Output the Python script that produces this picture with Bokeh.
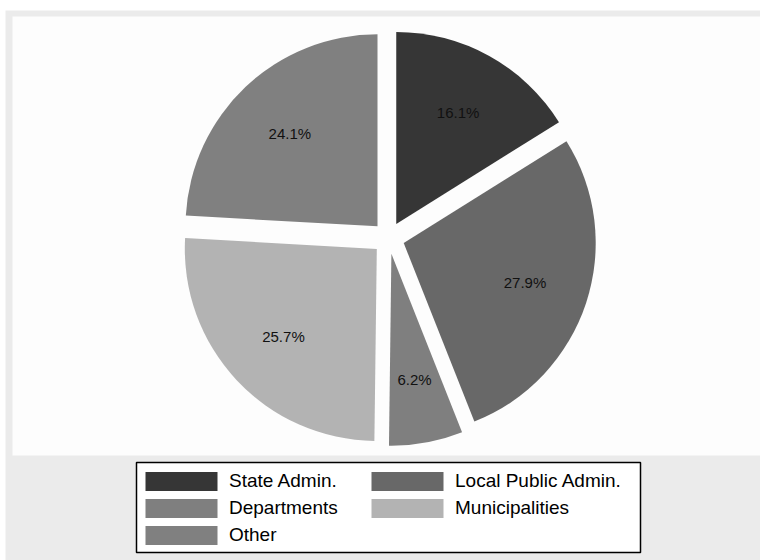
import math
from bokeh.plotting import figure
from bokeh.models import Range1d, ColumnDataSource, Legend, LegendItem
from bokeh.core.properties import value
from bokeh.embed import file_html
from bokeh.resources import INLINE

# ---- data ----
categories = ["State Admin.", "Local Public Admin.", "Departments", "Municipalities", "Other"]
shares = [16.1, 27.9, 6.2, 25.7, 24.1]
colors = ["#363636", "#686868", "#7f7f7f", "#b3b3b3", "#808080"]
pct_labels = [f"{v:.1f}%" for v in shares]

# ---- layout constants (pixels) ----
W, H = 760, 560
cx, cy = 388, H - 237.5
R = 192
explode = 16
label_frac = 0.665
FONT = "Liberation Sans"

total = sum(shares)
start, end, xs, ys, lx, ly = [], [], [], [], [], []
cum = 0.0
for v in shares:
    a0 = math.pi / 2 - 2 * math.pi * cum / total
    cum += v
    a1 = math.pi / 2 - 2 * math.pi * cum / total
    mid = (a0 + a1) / 2
    ox = cx + explode * math.cos(mid)
    oy = cy + explode * math.sin(mid)
    start.append(a1)
    end.append(a0)
    xs.append(ox)
    ys.append(oy)
    lx.append(ox + label_frac * R * math.cos(mid))
    ly.append(oy + label_frac * R * math.sin(mid))

src = ColumnDataSource(dict(x=xs, y=ys, start=start, end=end, color=colors,
                            cat=categories, lx=lx, ly=ly, label=pct_labels))

p = figure(width=W, height=H, x_range=Range1d(0, W), y_range=Range1d(0, H),
           min_border=0, toolbar_location=None, output_backend="svg",
           x_axis_location=None, y_axis_location=None)
p.grid.visible = False
p.outline_line_color = None
p.background_fill_color = "white"
p.border_fill_color = "white"

# graph region (gray) and plot region (white)
p.quad(left=5, right=W, bottom=0, top=H - 10, fill_color="#ebebeb", line_color=None)
p.quad(left=12, right=W, bottom=H - 455, top=H - 16, fill_color="#fdfdfd", line_color=None)

# legend frame
p.quad(left=136, right=640, bottom=H - 552, top=H - 462, fill_color="white",
       line_color="black", line_width=1.5)

r = p.wedge(x="x", y="y", radius=R, start_angle="start", end_angle="end",
            direction="anticlock", fill_color="color", line_color=None, source=src)

p.text(x="lx", y="ly", text="label", source=src, text_align="center",
       text_baseline="middle", text_font=value(FONT), text_font_size="15px",
       text_color="#111111")

items = [LegendItem(label=c, renderers=[r], index=i) for i, c in enumerate(categories)]
legend = Legend(items=items, location=(136, 13), orientation="horizontal", ncols=2,
                glyph_width=90, glyph_height=24, label_height=24, label_width=130,
                label_standoff=3, spacing=3, padding=0, margin=0,
                label_text_font=FONT, label_text_font_size="19px",
                label_text_color="black",
                border_line_color=None, background_fill_alpha=0.0)
p.add_layout(legend)

open("out.html", "w").write(file_html(p, INLINE))
